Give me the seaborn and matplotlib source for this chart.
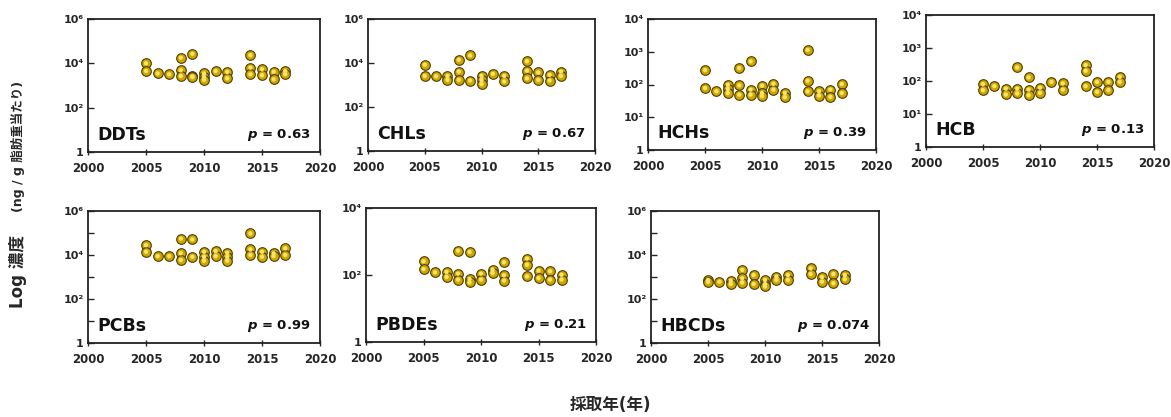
# Temporal trends of POPs (log concentration vs sampling year)
import numpy as np
import pandas as pd
import matplotlib
matplotlib.use('Agg')
import matplotlib.pyplot as plt
from matplotlib.ticker import NullFormatter
import seaborn as sns

sns.set_style('white')
plt.rcParams['font.family'] = ['DejaVu Sans', 'Noto Sans CJK JP']

# Data (ng/g lipid weight)
ddts_year = [2005, 2005, 2006, 2007, 2008, 2008, 2008, 2009, 2009, 2009, 2010, 2010, 2010,
             2011, 2012, 2012, 2014, 2014, 2014, 2015, 2015, 2016, 2016, 2017, 2017]
ddts_val = [1.0e4, 4.5e3, 3.5e3, 3.2e3, 1.8e4, 4.9e3, 2.7e3, 2.7e4, 2.6e3, 2.4e3, 3.5e3, 2.5e3, 1.8e3,
            4.5e3, 4.1e3, 2.1e3, 2.35e4, 6.4e3, 3.2e3, 5.4e3, 2.9e3, 4.2e3, 1.9e3, 4.5e3, 3.2e3]

chls_year = [2005, 2005, 2006, 2007, 2007, 2008, 2008, 2008, 2009, 2009, 2010, 2010, 2010,
             2011, 2012, 2012, 2014, 2014, 2014, 2015, 2015, 2016, 2016, 2017, 2017]
chls_val = [8.4e3, 2.6e3, 2.5e3, 2.6e3, 1.7e3, 1.4e4, 4.1e3, 1.7e3, 2.2e4, 1.6e3, 2.6e3, 1.7e3, 1.1e3,
            3.2e3, 2.6e3, 1.45e3, 1.2e4, 4.5e3, 2.0e3, 3.7e3, 1.7e3, 2.9e3, 1.6e3, 4.1e3, 2.6e3]

hchs_year = [2005, 2005, 2006, 2007, 2007, 2007, 2008, 2008, 2008, 2009, 2009, 2009, 2010, 2010, 2010,
             2011, 2011, 2012, 2012, 2014, 2014, 2014, 2015, 2015, 2016, 2016, 2017, 2017]
hchs_val = [275, 78, 62, 98, 73, 55, 316, 94, 49, 505, 70, 49, 92, 55, 44,
            105, 70, 55, 41, 1140, 131, 62, 62, 46, 70, 42, 103, 55]

hcb_year = [2005, 2005, 2006, 2007, 2007, 2008, 2008, 2008, 2009, 2009, 2009, 2010, 2010,
            2011, 2012, 2012, 2014, 2014, 2014, 2015, 2015, 2016, 2016, 2017, 2017]
hcb_val = [80, 53, 70, 59, 39, 257, 59, 42, 128, 55, 37, 63, 44,
           94, 84, 55, 302, 204, 70, 94, 47, 94, 53, 134, 94]

pcbs_year = [2005, 2005, 2006, 2007, 2008, 2008, 2008, 2009, 2009, 2010, 2010, 2010,
             2011, 2011, 2012, 2012, 2012, 2014, 2014, 2014, 2015, 2015, 2016, 2016, 2017, 2017]
pcbs_val = [2.8e4, 1.4e4, 8.9e3, 8.9e3, 5.6e4, 1.2e4, 5.9e3, 5.1e4, 8.3e3, 1.4e4, 8.3e3, 5.5e3,
            1.5e4, 8.9e3, 1.26e4, 8.3e3, 5.5e3, 9.5e4, 1.8e4, 1.0e4, 1.4e4, 8.3e3, 1.2e4, 8.9e3, 2.0e4, 1.0e4]

pbdes_year = [2005, 2005, 2006, 2007, 2007, 2008, 2008, 2008, 2009, 2009, 2009, 2010, 2010,
              2011, 2011, 2012, 2012, 2012, 2014, 2014, 2014, 2015, 2015, 2016, 2016, 2017, 2017]
pbdes_val = [257, 151, 120, 123, 87, 536, 110, 73, 488, 76, 60, 110, 73,
             145, 115, 240, 98, 68, 309, 204, 91, 135, 81, 129, 73, 102, 73]

hbcds_year = [2005, 2005, 2006, 2007, 2007, 2008, 2008, 2008, 2009, 2009, 2010, 2010, 2010,
              2011, 2011, 2012, 2012, 2014, 2014, 2015, 2015, 2016, 2016, 2017, 2017]
hbcds_val = [735, 600, 616, 690, 480, 2100, 870, 560, 1230, 480, 735, 480, 370,
             1050, 735, 1230, 735, 2450, 1370, 980, 616, 1370, 520, 1230, 790]

names = ['DDTs', 'CHLs', 'HCHs', 'HCB', 'PCBs', 'PBDEs', 'HBCDs']
p_values = ['0.63', '0.67', '0.39', '0.13', '0.99', '0.21', '0.074']
years = [ddts_year, chls_year, hchs_year, hcb_year, pcbs_year, pbdes_year, hbcds_year]
values = [ddts_val, chls_val, hchs_val, hcb_val, pcbs_val, pbdes_val, hbcds_val]
y_top = [6, 6, 4, 4, 6, 4, 6]

# axes boxes in pixels: left, top, right, bottom
boxes = [(88, 19, 320, 152), (368, 19, 595, 151), (648, 19, 876, 150), (926, 15, 1154, 147),
         (88, 211, 320, 343), (366, 208, 596, 342), (651, 211, 879, 343)]

W, H = 1171, 417
fig = plt.figure(figsize=(W / 100, H / 100), dpi=100)

sup = str.maketrans('0123456789', '⁰¹²³⁴⁵⁶⁷⁸⁹')

for i, name in enumerate(names):
    l, t, r, b = boxes[i]
    ax = fig.add_axes([l / W, 1 - b / H, (r - l) / W, (b - t) / H])
    df = pd.DataFrame({'year': years[i], 'conc': values[i]})
    sns.scatterplot(data=df, x='year', y='conc', ax=ax, s=48, color='#CFA500',
                    edgecolor='#4d3d00', linewidth=0.8, zorder=3)
    sns.scatterplot(data=df, x='year', y='conc', ax=ax, s=10, color='#F8E468',
                    edgecolor='none', linewidth=0, zorder=4)
    ax.set_yscale('log')
    ax.set_ylim(1, 10 ** y_top[i])
    ax.set_xlim(2000, 2020)
    ax.set_xlabel('')
    ax.set_ylabel('')

    if y_top[i] == 6:
        majors = [0, 2, 4, 6]
    elif name == 'PBDEs':
        majors = [0, 2, 4]
    else:
        majors = [0, 1, 2, 3, 4]
    ax.set_yticks([10.0 ** k for k in majors])
    ax.set_yticklabels(['1' if k == 0 else '10' + str(k).translate(sup) for k in majors],
                       fontsize=8, fontweight='bold')
    if name in ('PCBs', 'HBCDs'):
        ax.set_yticks([10.0 ** k for k in [1, 3, 5]], minor=True)
    else:
        ax.set_yticks([], minor=True)
    ax.yaxis.set_minor_formatter(NullFormatter())

    ax.set_xticks([2000, 2005, 2010, 2015, 2020])
    ax.set_xticklabels(['2000', '2005', '2010', '2015', '2020'], fontsize=8.5, fontweight='bold')
    ax.tick_params(axis='y', which='both', direction='in', length=4, width=1, pad=3, left=True)
    ax.tick_params(axis='x', direction='inout', length=5, width=1, pad=5, bottom=True)

    for sp in ax.spines.values():
        sp.set_visible(True)
        sp.set_color('#222222')
        sp.set_linewidth(1.3)

    ax.text(0.04, 0.13, name, transform=ax.transAxes, fontsize=12.5, fontweight='bold',
            ha='left', va='center', color='#111111')
    ax.text(0.96, 0.13, '$\\boldsymbol{p}$ = ' + p_values[i], transform=ax.transAxes,
            fontsize=9.5, fontweight='bold', ha='right', va='center', color='#111111')

fig.text(18 / W, 1 - 272 / H, 'Log 濃度', rotation=90, ha='center', va='center',
         fontsize=12, fontweight='bold')
fig.text(18 / W, 1 - 146 / H, '(ng / g 脂肪重当たり)', rotation=90, ha='center', va='center',
         fontsize=9, fontweight='bold')
fig.text(610 / W, 1 - 405 / H, '採取年(年)', ha='center', va='center',
         fontsize=12, fontweight='bold')

fig.savefig('out.png', dpi=100)
